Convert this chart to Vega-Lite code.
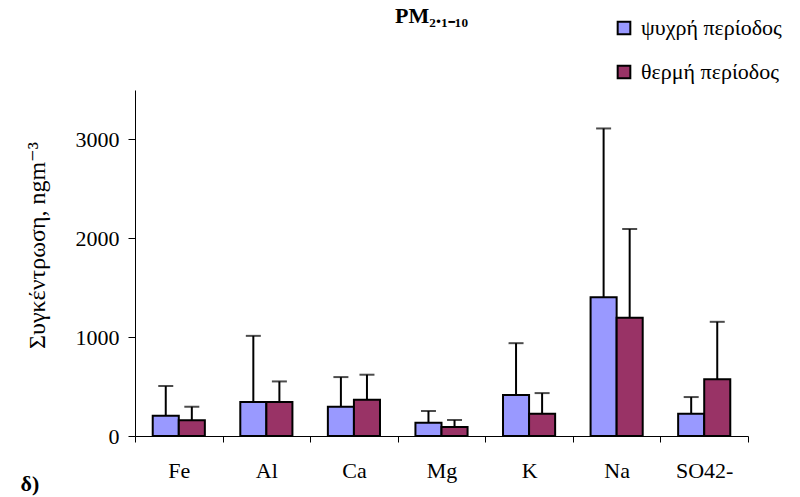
{
  "$schema": "https://vega.github.io/schema/vega-lite/v6.json",
  "autosize": "none",
  "width": 613,
  "height": 346,
  "padding": {"left": 135, "top": 90, "right": 52, "bottom": 61},
  "background": "white",
  "title": {
    "text": "PM₂.₁₋₁₀",
    "font": "Liberation Serif",
    "fontSize": 22,
    "fontWeight": "bold",
    "color": "black",
    "anchor": "middle",
    "baseline": "alphabetic",
    "offset": 0,
    "dy": 28,
    "dx": -10
  },
  "config": {
    "view": {"stroke": null},
    "font": "Liberation Serif",
    "axis": {"grid": false, "domainColor": "black", "tickColor": "black", "labelColor": "black", "titleColor": "black", "labelFont": "Liberation Serif, DejaVu Serif", "titleFont": "Liberation Serif, DejaVu Serif", "domainWidth": 1, "tickWidth": 1}
  },
  "data": {
    "values": [
      {"element": "Fe", "period": "ψυχρή περίοδος", "value": 205, "upper": 505},
      {"element": "Fe", "period": "θερμή περίοδος", "value": 159, "upper": 296},
      {"element": "Al", "period": "ψυχρή περίοδος", "value": 343, "upper": 1013},
      {"element": "Al", "period": "θερμή περίοδος", "value": 343, "upper": 552},
      {"element": "Ca", "period": "ψυχρή περίοδος", "value": 296, "upper": 596},
      {"element": "Ca", "period": "θερμή περίοδος", "value": 367, "upper": 620},
      {"element": "Mg", "period": "ψυχρή περίοδος", "value": 135, "upper": 253},
      {"element": "Mg", "period": "θερμή περίοδος", "value": 91, "upper": 162},
      {"element": "K", "period": "ψυχρή περίοδος", "value": 414, "upper": 939},
      {"element": "K", "period": "θερμή περίοδος", "value": 226, "upper": 434},
      {"element": "Na", "period": "ψυχρή περίοδος", "value": 1404, "upper": 3111},
      {"element": "Na", "period": "θερμή περίοδος", "value": 1195, "upper": 2094},
      {"element": "SO42-", "period": "ψυχρή περίοδος", "value": 226, "upper": 394},
      {"element": "SO42-", "period": "θερμή περίοδος", "value": 573, "upper": 1155}
    ]
  },
  "encoding": {
    "x": {
      "field": "element",
      "type": "nominal",
      "sort": ["Fe", "Al", "Ca", "Mg", "K", "Na", "SO42-"],
      "scale": {"paddingInner": 0, "paddingOuter": 0},
      "axis": {
        "title": "δ)",
        "titleFontSize": 22,
        "titleFontWeight": "bold",
        "titleAlign": "left",
        "titleBaseline": "alphabetic",
        "titleAnchor": null,
        "titleX": -115,
        "titleY": 54,
        "labelAngle": 0,
        "labelFontSize": 22,
        "labelPadding": 18,
        "tickSize": 6,
        "tickBand": "extent"
      }
    },
    "xOffset": {
      "field": "period",
      "type": "nominal",
      "sort": ["ψυχρή περίοδος", "θερμή περίοδος"],
      "scale": {"paddingInner": 0, "paddingOuter": 0.68}
    }
  },
  "layer": [
    {
      "mark": {"type": "bar", "stroke": "black", "strokeWidth": 2},
      "encoding": {
        "y": {
          "field": "value",
          "type": "quantitative",
          "scale": {"domain": [0, 3500], "nice": false},
          "axis": {
            "title": "Συγκέντρωση, ngm⁻³",
            "titleFontSize": 24,
            "titleFontWeight": "normal",
            "titlePadding": 26,
            "titleY": 155,
            "labelFontSize": 22,
            "labelPadding": 9,
            "tickSize": 7,
            "format": "d",
            "values": [0, 1000, 2000, 3000]
          }
        },
        "color": {
          "field": "period",
          "type": "nominal",
          "sort": ["ψυχρή περίοδος", "θερμή περίοδος"],
          "scale": {"domain": ["ψυχρή περίοδος", "θερμή περίοδος"], "range": ["#9999FF", "#993366"]},
          "legend": {
            "title": null,
            "orient": "none",
            "legendX": 478,
            "legendY": -73,
            "symbolType": "square",
            "symbolSize": 160,
            "symbolStrokeColor": "black",
            "symbolStrokeWidth": 2,
            "labelFont": "Liberation Serif, DejaVu Serif",
            "labelFontSize": 22,
            "labelColor": "black",
            "rowPadding": 22,
            "labelOffset": 6
          }
        }
      }
    },
    {
      "mark": {"type": "rule", "color": "black", "strokeWidth": 2},
      "encoding": {
        "y": {"field": "value", "type": "quantitative"},
        "y2": {"field": "upper"}
      }
    },
    {
      "mark": {"type": "tick", "color": "black", "thickness": 2, "size": 15, "orient": "horizontal"},
      "encoding": {
        "y": {"field": "upper", "type": "quantitative"}
      }
    }
  ]
}
